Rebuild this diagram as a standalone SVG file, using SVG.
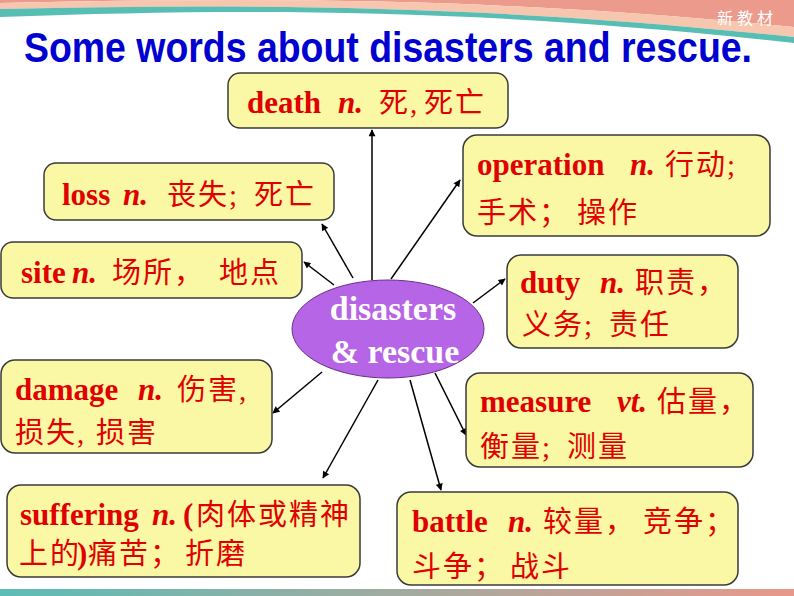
<svg xmlns="http://www.w3.org/2000/svg" width="794" height="596" viewBox="0 0 794 596">
<style>
.box{fill:#FAF8A4;stroke:#3A3A3A;stroke-width:1.5}
.t{fill:#E00000;font-family:"Liberation Serif","Noto Sans CJK SC",serif}
.en{font-weight:bold;font-size:31px}
.it{font-style:italic}
.zh{font-size:29px;font-weight:normal;letter-spacing:2px}
.conn line{stroke:#000;stroke-width:1.5;marker-end:url(#ah)}
.ctr{fill:#FFFFFF;font-family:"Liberation Serif",serif;font-weight:bold;font-size:34px;text-anchor:middle}
</style>
<defs>
<marker id="ah" viewBox="0 0 10 10" refX="9" refY="5" markerWidth="9" markerHeight="7" markerUnits="userSpaceOnUse" orient="auto">
<path d="M0,0 L10,5 L0,10 z" fill="#000"/>
</marker>
<linearGradient id="bot" x1="0" y1="0" x2="1" y2="0">
<stop offset="0" stop-color="#5BBDB6"/>
<stop offset="1" stop-color="#E8988A"/>
</linearGradient>
</defs>
<rect x="0" y="0" width="794" height="596" fill="#FFFFFF"/>
<g id="header">
<path d="M0,0 L794,0 L794,27 C480,-4 250,-2 0,3 Z" fill="#EC9A8B"/>
<path d="M0,3 C250,-2 480,-4 794,27 L794,37 C480,4 250,4 0,9 Z" fill="#F6C6AE"/>
<path d="M0,9 C250,4 480,4 794,37 L794,43 C480,8 250,8 0,17 Z" fill="#58BDB3"/>
<text x="717" y="24" fill="#FFFFFF" font-family="'Noto Sans CJK SC',sans-serif" font-size="16" letter-spacing="4">新教材</text>
<rect x="0" y="589" width="794" height="7" fill="url(#bot)"/>
</g>
<text id="title" x="24" y="62" fill="#0000D0" font-family="'Liberation Sans',Arial,sans-serif" font-weight="bold" font-size="42" textLength="728" lengthAdjust="spacingAndGlyphs">Some words about disasters and rescue.</text>
<g class="conn" id="connectors">
<line x1="372" y1="280" x2="372" y2="130"/>
<line x1="353" y1="278" x2="322" y2="224"/>
<line x1="334" y1="285" x2="304" y2="262"/>
<line x1="391" y1="279" x2="460" y2="180"/>
<line x1="473" y1="303" x2="505" y2="279"/>
<line x1="322" y1="372" x2="273" y2="413"/>
<line x1="378" y1="380" x2="323" y2="478"/>
<line x1="410" y1="380" x2="441" y2="490"/>
<line x1="435" y1="373" x2="466" y2="435"/>
</g>
<g id="center">
<ellipse cx="388" cy="329" rx="96" ry="49" fill="#B565E6" stroke="#6B2E8C" stroke-width="1"/>
<text class="ctr" x="393" y="320">disasters</text>
<text class="ctr" x="395" y="363">&amp; rescue</text>
</g>
<g id="death">
<rect class="box" x="228" y="73" width="280" height="55" rx="12"/>
<text class="t" y="113"><tspan class="en" x="247">death</tspan><tspan class="en it" x="338">n.</tspan><tspan class="zh" x="379">死,</tspan><tspan class="zh" x="424">死亡</tspan></text>
</g>
<g id="loss">
<rect class="box" x="44" y="163" width="290" height="57" rx="12"/>
<text class="t" y="205"><tspan class="en" x="62">loss</tspan><tspan class="en it" x="123">n.</tspan><tspan class="zh" x="167">丧失;</tspan><tspan class="zh" x="254">死亡</tspan></text>
</g>
<g id="site">
<rect class="box" x="1" y="242" width="301" height="56" rx="12"/>
<text class="t" y="283"><tspan class="en" x="21">site</tspan><tspan class="en it" x="72">n.</tspan><tspan class="zh" x="112">场所，</tspan><tspan class="zh" x="219">地点</tspan></text>
</g>
<g id="operation">
<rect class="box" x="463" y="135" width="307" height="101" rx="14"/>
<text class="t" y="175"><tspan class="en" x="477">operation</tspan><tspan class="en it" x="630">n.</tspan><tspan class="zh" x="665">行动;</tspan></text>
<text class="t" y="223"><tspan class="zh" x="477">手术；</tspan><tspan class="zh" x="577">操作</tspan></text>
</g>
<g id="duty">
<rect class="box" x="507" y="255" width="231" height="93" rx="14"/>
<text class="t" y="293"><tspan class="en" x="520">duty</tspan><tspan class="en it" x="600">n.</tspan><tspan class="zh" x="635">职责，</tspan></text>
<text class="t" y="335"><tspan class="zh" x="522">义务;</tspan><tspan class="zh" x="609">责任</tspan></text>
</g>
<g id="damage">
<rect class="box" x="1" y="360" width="271" height="93" rx="14"/>
<text class="t" y="400"><tspan class="en" x="15">damage</tspan><tspan class="en it" x="138">n.</tspan><tspan class="zh" x="177">伤害,</tspan></text>
<text class="t" y="443"><tspan class="zh" x="15">损失,</tspan><tspan class="zh" x="96">损害</tspan></text>
</g>
<g id="suffering">
<rect class="box" x="7" y="485" width="353" height="92" rx="14"/>
<text class="t" y="525"><tspan class="en" x="20">suffering</tspan><tspan class="en it" x="152">n.</tspan><tspan class="en" x="183">(</tspan><tspan class="zh" x="196">肉体或精神</tspan></text>
<text class="t" y="564"><tspan class="zh" x="19" letter-spacing="0">上的</tspan><tspan class="en" x="77">)</tspan><tspan class="zh" x="88">痛苦；</tspan><tspan class="zh" x="185">折磨</tspan></text>
</g>
<g id="measure">
<rect class="box" x="466" y="373" width="287" height="94" rx="14"/>
<text class="t" y="412"><tspan class="en" x="480">measure</tspan><tspan class="en it" x="617">vt.</tspan><tspan class="zh" x="657">估量，</tspan></text>
<text class="t" y="457"><tspan class="zh" x="480">衡量;</tspan><tspan class="zh" x="567">测量</tspan></text>
</g>
<g id="battle">
<rect class="box" x="397" y="492" width="341" height="93" rx="14"/>
<text class="t" y="532"><tspan class="en" x="412">battle</tspan><tspan class="en it" x="508">n.</tspan><tspan class="zh" x="543">较量，</tspan><tspan class="zh" x="643">竞争；</tspan></text>
<text class="t" y="577"><tspan class="zh" x="412">斗争；</tspan><tspan class="zh" x="510">战斗</tspan></text>
</g>
</svg>
